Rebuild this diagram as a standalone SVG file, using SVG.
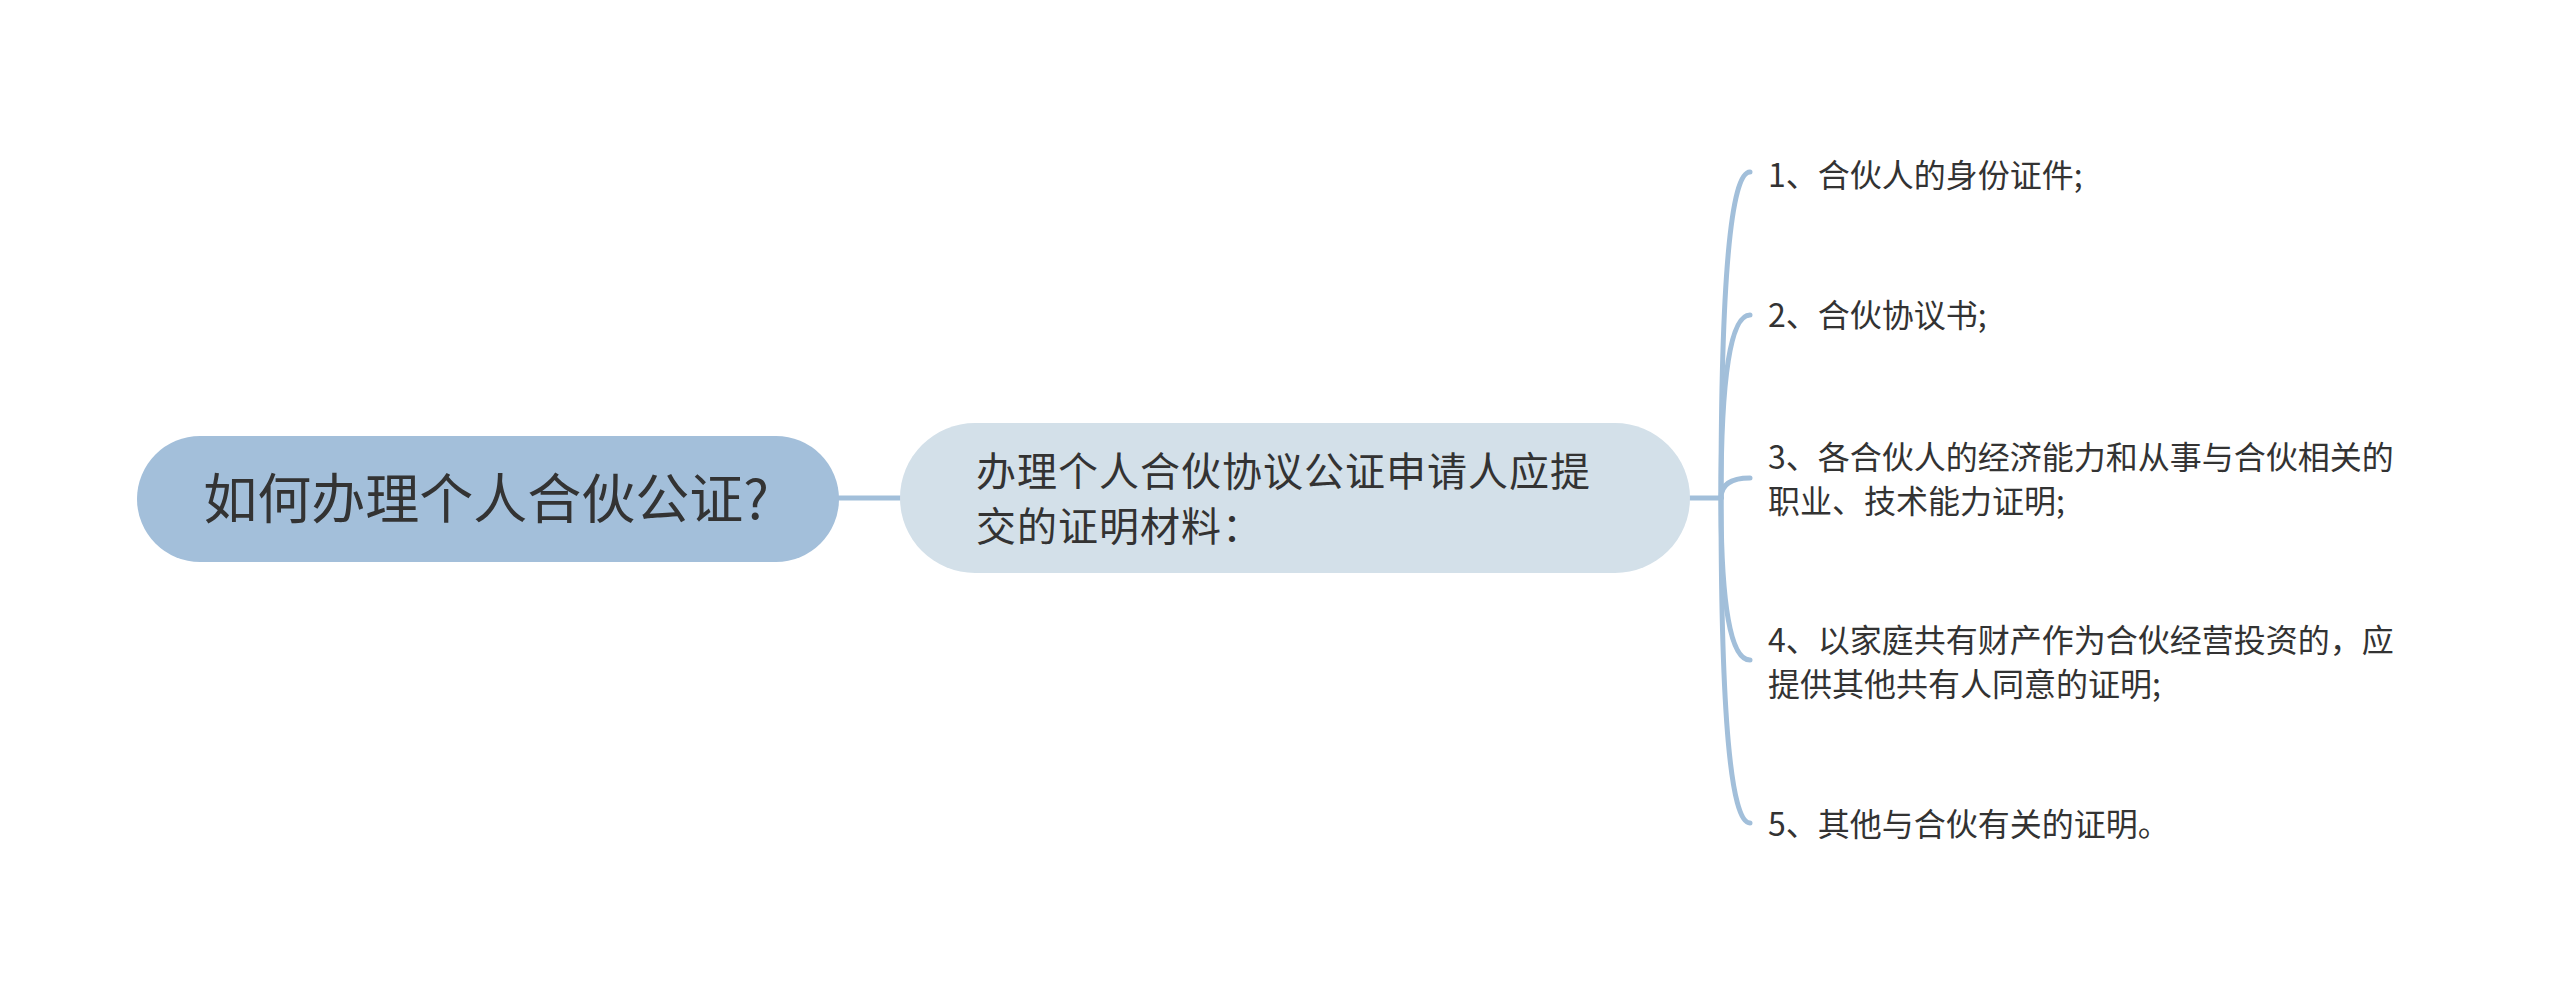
<svg xmlns="http://www.w3.org/2000/svg" width="2560" height="997" viewBox="0 0 2560 997">
<style>
.t{font-family:"Noto Sans CJK SC","Microsoft YaHei",sans-serif;fill:#333333}
.root-t{font-size:54px}
.mid-t{font-size:40px;letter-spacing:1px}
.leaf-t{font-size:32px}
.c{fill:none;stroke:#a2bfda;stroke-width:5;stroke-linecap:round}
</style>
<rect width="2560" height="997" fill="#ffffff"/>
<g id="connectors">
<path class="c" d="M839 498 L900 498"/>
<path class="c" d="M1690 498 L1721 498"/>
<path class="c" d="M1721 498 Q1721 172 1750 172"/>
<path class="c" d="M1721 498 Q1721 315 1750 315"/>
<path class="c" d="M1721 498 Q1721 478 1750 478"/>
<path class="c" d="M1721 498 Q1721 660 1750 660"/>
<path class="c" d="M1721 498 Q1721 823 1750 823"/>
</g>
<g id="root">
<rect x="137" y="436" width="702" height="126" rx="63" fill="#a3bfda"/>
<text class="t root-t" x="486" y="519" text-anchor="middle">如何办理个人合伙公证?</text>
</g>
<g id="middle">
<rect x="900" y="423" width="790" height="150" rx="75" fill="#d3e0e9"/>
<text class="t mid-t" x="976" y="486">办理个人合伙协议公证申请人应提</text>
<text class="t mid-t" x="976" y="541">交的证明材料：</text>
</g>
<g id="leaf1">
<text class="t leaf-t" x="1768" y="187">1、合伙人的身份证件;</text>
</g>
<g id="leaf2">
<text class="t leaf-t" x="1768" y="327">2、合伙协议书;</text>
</g>
<g id="leaf3">
<text class="t leaf-t" x="1768" y="469">3、各合伙人的经济能力和从事与合伙相关的</text>
<text class="t leaf-t" x="1768" y="513">职业、技术能力证明;</text>
</g>
<g id="leaf4">
<text class="t leaf-t" x="1768" y="652">4、以家庭共有财产作为合伙经营投资的，应</text>
<text class="t leaf-t" x="1768" y="696">提供其他共有人同意的证明;</text>
</g>
<g id="leaf5">
<text class="t leaf-t" x="1768" y="836">5、其他与合伙有关的证明。</text>
</g>
</svg>
